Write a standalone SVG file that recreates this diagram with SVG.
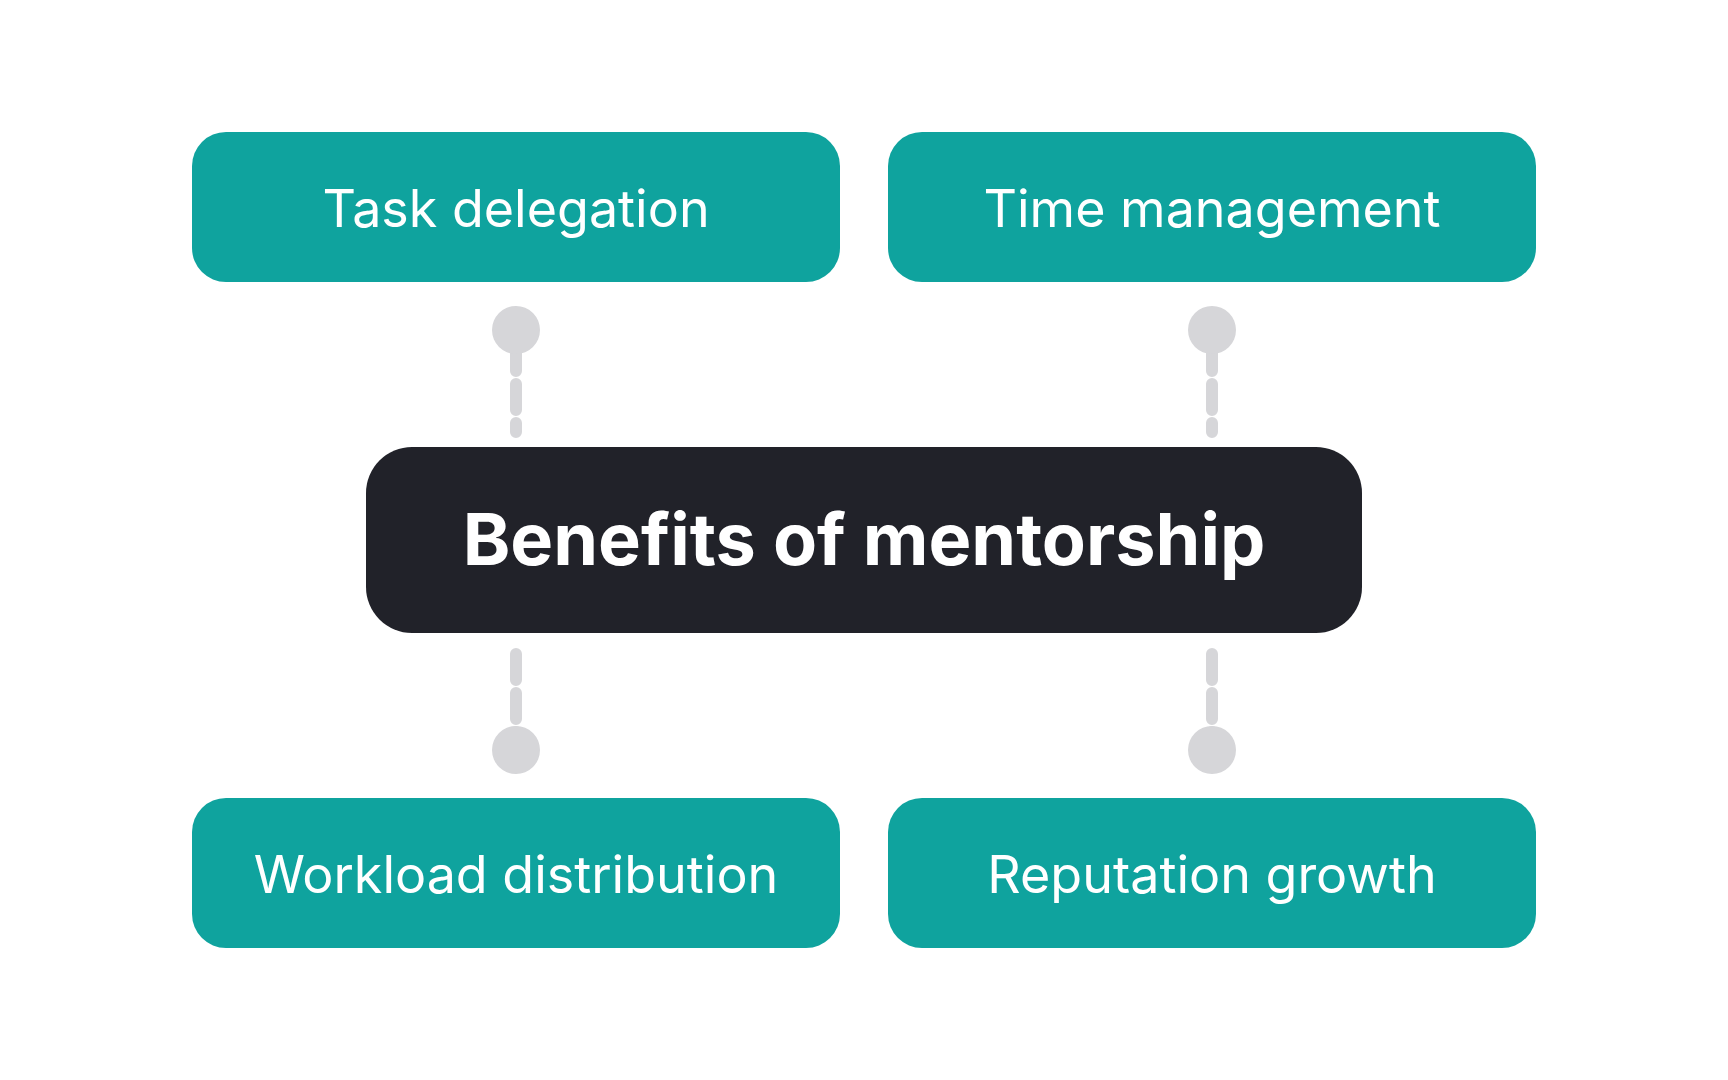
<svg xmlns="http://www.w3.org/2000/svg" width="1728" height="1080" viewBox="0 0 1728 1080">
<style>
.b{fill:#0fa39e}
.t{font-family:Inter,"Noto Sans",sans-serif;font-size:52px;fill:#fff;text-anchor:middle}
.c{font-family:Inter,"Noto Sans",sans-serif;font-size:72px;font-weight:700;fill:#fff;text-anchor:middle}
.d{stroke:#d6d6d9;stroke-width:12;stroke-linecap:round;stroke-dasharray:26 13;fill:none}
.p{fill:#d6d6d9}
</style>
<rect width="1728" height="1080" fill="#fff"/>
<g id="connectors">
<path class="d" d="M516 345V432"/><circle class="p" cx="516" cy="330" r="24"/>
<path class="d" d="M1212 345V432"/><circle class="p" cx="1212" cy="330" r="24"/>
<path class="d" d="M516 654V735"/><circle class="p" cx="516" cy="750" r="24"/>
<path class="d" d="M1212 654V735"/><circle class="p" cx="1212" cy="750" r="24"/>
</g>
<g id="n1"><rect class="b" x="192" y="132" width="648" height="150" rx="34"/><text class="t" x="516" y="227">Task delegation</text></g>
<g id="n2"><rect class="b" x="888" y="132" width="648" height="150" rx="34"/><text class="t" x="1212" y="227">Time management</text></g>
<g id="center"><rect x="366" y="447" width="996" height="186" rx="46" fill="#212229"/><text class="c" x="864" y="565">Benefits of mentorship</text></g>
<g id="n3"><rect class="b" x="192" y="798" width="648" height="150" rx="34"/><text class="t" x="516" y="893">Workload distribution</text></g>
<g id="n4"><rect class="b" x="888" y="798" width="648" height="150" rx="34"/><text class="t" x="1212" y="893">Reputation growth</text></g>
</svg>
